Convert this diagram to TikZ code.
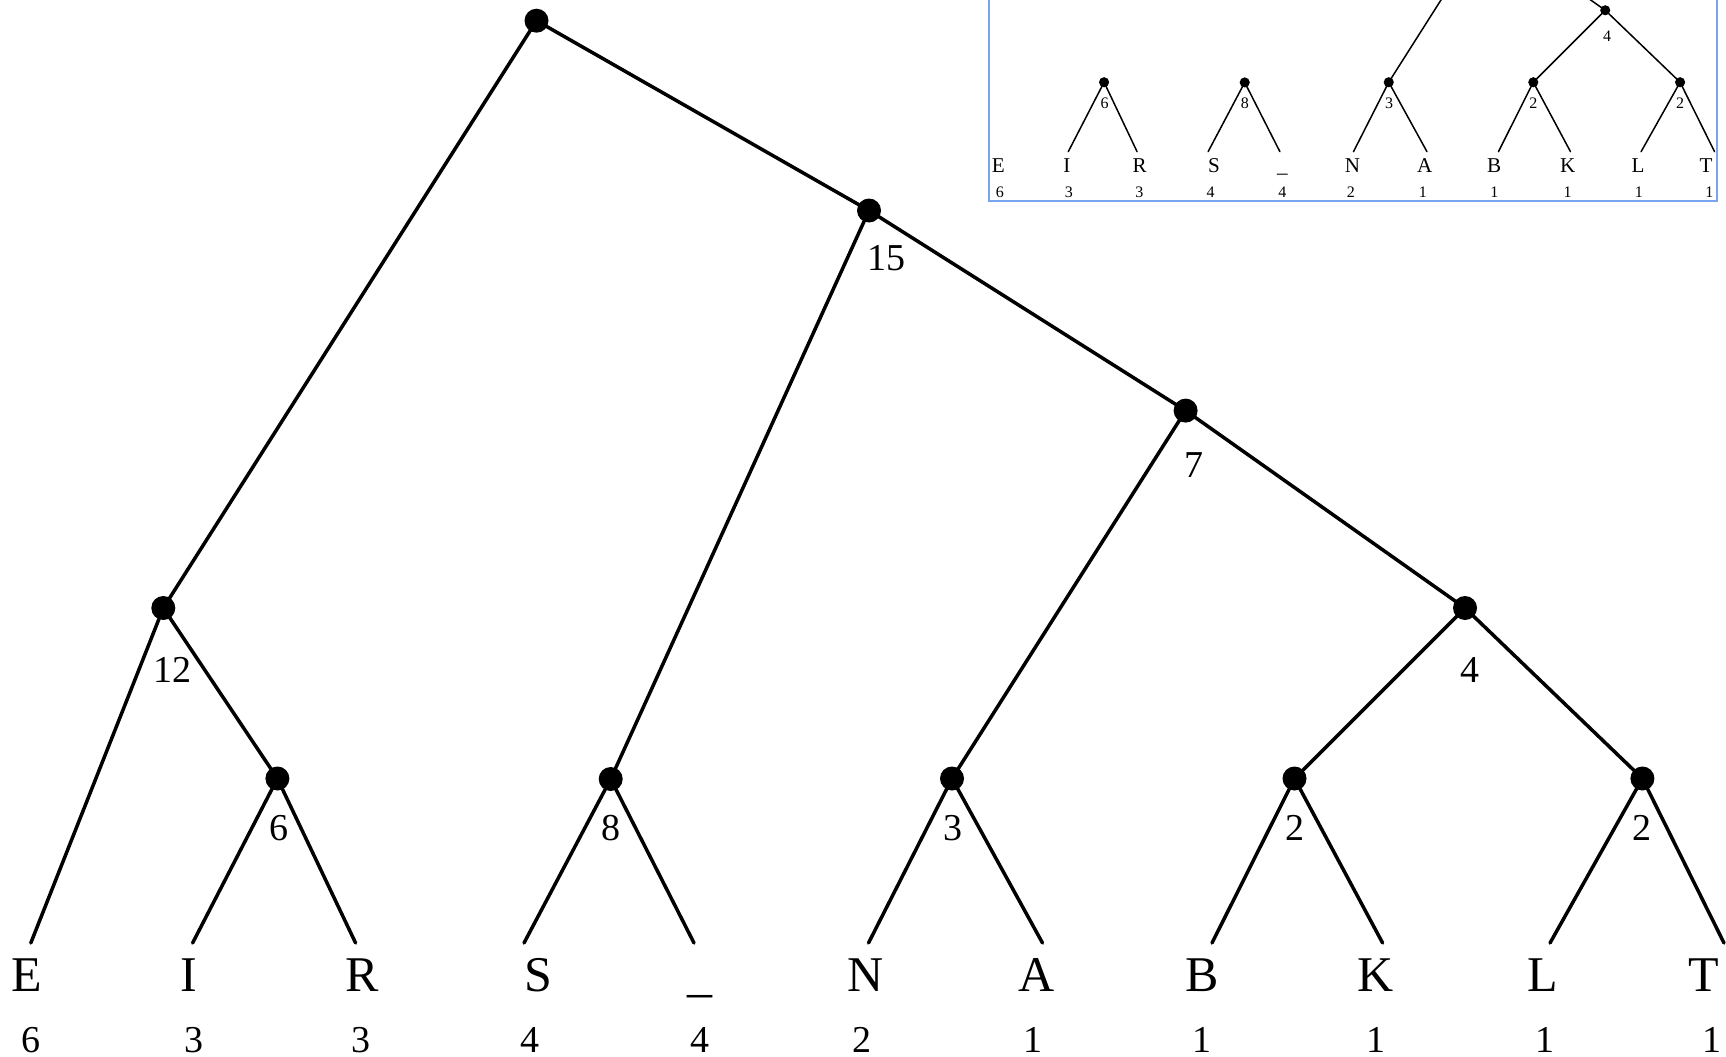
\documentclass[tikz,border=0pt]{standalone}
\usepackage{fontspec}
\setmainfont{Liberation Serif}
\definecolor{insetblue}{RGB}{120,165,240}
\tikzset{
  dot/.style={circle,fill=black,draw=none,inner sep=0pt,minimum size=24pt},
  leaf/.style={font=\fontsize{50}{60}\selectfont,anchor=base,inner sep=0pt},
  cnt/.style={font=\fontsize{38}{45}\selectfont,anchor=base,inner sep=0pt},
  edge/.style={line cap=round}
}
% forest of subtrees: E alone, (I,R), (S,_), and the subtree of weight 7
\newcommand\huffforest[2]{%
\begin{scope}[line width=#2]
\node[dot] (#1n7) at (1185.6,410.6) {};
\node[dot] (#1n4) at (1465,608) {};
\node[dot] (#1n6) at (277.4,778.5) {};
\node[dot] (#1n8) at (610.7,779) {};
\node[dot] (#1n3) at (952,778.5) {};
\node[dot] (#1n2a) at (1294.5,778.5) {};
\node[dot] (#1n2b) at (1642.4,778.5) {};
\coordinate (#1E) at (30.8,943);
\coordinate (#1I) at (192.6,943);
\coordinate (#1R) at (355.6,943);
\coordinate (#1S) at (524,943);
\coordinate (#1U) at (694,943);
\coordinate (#1N) at (868.5,943);
\coordinate (#1A) at (1042.5,943);
\coordinate (#1B) at (1212,943);
\coordinate (#1K) at (1382.6,943);
\coordinate (#1L) at (1550,943);
\coordinate (#1T) at (1724,943);
\draw[edge] (#1n6.center) -- (#1I);
\draw[edge] (#1n6.center) -- (#1R);
\draw[edge] (#1n8.center) -- (#1S);
\draw[edge] (#1n8.center) -- (#1U);
\draw[edge] (#1n7.center) -- (#1n3.center);
\draw[edge] (#1n7.center) -- (#1n4.center);
\draw[edge] (#1n3.center) -- (#1N);
\draw[edge] (#1n3.center) -- (#1A);
\draw[edge] (#1n4.center) -- (#1n2a.center);
\draw[edge] (#1n4.center) -- (#1n2b.center);
\draw[edge] (#1n2a.center) -- (#1B);
\draw[edge] (#1n2a.center) -- (#1K);
\draw[edge] (#1n2b.center) -- (#1L);
\draw[edge] (#1n2b.center) -- (#1T);
\node[cnt] (#1c4) at (1469.5,682.7) {4};
\node[cnt] (#1c6) at (278.5,840) {6};
\node[cnt] (#1c8) at (611,840) {8};
\node[cnt] (#1c3) at (953,840) {3};
\node[cnt] (#1c2a) at (1294.5,840) {2};
\node[cnt] (#1c2b) at (1642.4,840) {2};
\node[leaf] (#1lE) at (27,991.5) {E};
\node[leaf] (#1lI) at (189,991.5) {I};
\node[leaf] (#1lR) at (362,991.5) {R};
\node[leaf] (#1lS) at (538,991.5) {S};
\node[leaf] (#1lU) at (700,991.5) {\_};
\node[leaf] (#1lN) at (866,991.5) {N};
\node[leaf] (#1lA) at (1037,991.5) {A};
\node[leaf] (#1lB) at (1202,991.5) {B};
\node[leaf] (#1lK) at (1376,991.5) {K};
\node[leaf] (#1lL) at (1543,991.5) {L};
\node[leaf] (#1lT) at (1704,991.5) {T};
\node[cnt] (#1fE) at (30.6,1052) {6};
\node[cnt] (#1fI) at (194,1052) {3};
\node[cnt] (#1fR) at (361,1052) {3};
\node[cnt] (#1fS) at (530,1052) {4};
\node[cnt] (#1fU) at (700,1052) {4};
\node[cnt] (#1fN) at (862,1052) {2};
\node[cnt] (#1fA) at (1033,1052) {1};
\node[cnt] (#1fB) at (1202,1052) {1};
\node[cnt] (#1fK) at (1376,1052) {1};
\node[cnt] (#1fL) at (1545,1052) {1};
\node[cnt] (#1fT) at (1712,1052) {1};
\end{scope}}
\begin{document}
\begin{tikzpicture}[x=1pt,y=-1pt]
\useasboundingbox (0,0) rectangle (1726,1057);
% full tree
\huffforest{m}{3.5pt}
\begin{scope}[line width=3.5pt]
\node[dot] (mroot) at (536.5,20.7) {};
\node[dot] (mn15) at (869,210.5) {};
\node[dot] (mn12) at (163.3,608) {};
\draw[edge] (mroot.center) -- (mn12.center);
\draw[edge] (mroot.center) -- (mn15.center);
\draw[edge] (mn12.center) -- (mE);
\draw[edge] (mn12.center) -- (mn6.center);
\draw[edge] (mn15.center) -- (mn8.center);
\draw[edge] (mn15.center) -- (mn7.center);
\node[cnt] (mc15) at (886,270) {15};
\node[cnt] (mc7) at (1194,477.7) {7};
\node[cnt] (mc12) at (172.5,682.7) {12};
\end{scope}
% inset: earlier stage of the construction
\begin{scope}
\clip (989,-300) rectangle (1717,200);
\fill[white] (989,-300) rectangle (1717,200);
\begin{scope}[shift={(987,-246.3)},scale=0.422,transform shape]
\huffforest{t}{1.5pt}
\end{scope}
\end{scope}
\draw[insetblue,line width=2pt] (989,-300) rectangle (1717,200.5);
\end{tikzpicture}
\end{document}
